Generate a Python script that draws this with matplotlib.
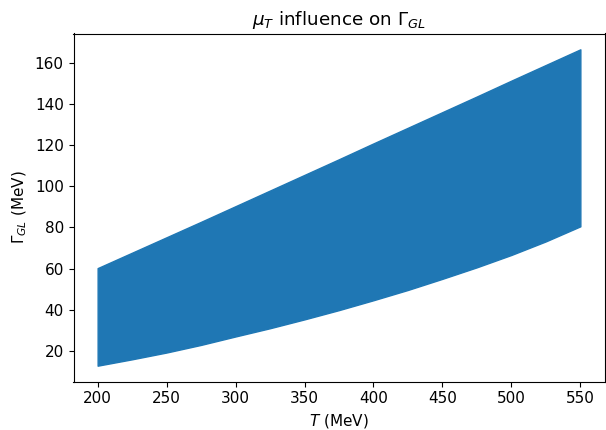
import numpy as np
import matplotlib
matplotlib.use("Agg")
import matplotlib.pyplot as plt

# temperature grid and Gamma_GL band edges (MeV)
T = [200, 225, 250, 275, 300, 325, 350, 375, 400, 425, 450, 475, 500, 525, 550]
gamma_low = [12.8, 15.9, 19.2, 22.9, 27.0, 31.0, 35.3, 39.8, 44.6, 49.6,
             55.0, 60.6, 66.6, 73.2, 80.5]
gamma_high = [60.2, 67.7, 75.2, 82.7, 90.3, 97.9, 105.5, 113.1, 120.8, 128.4,
              136.0, 143.6, 151.3, 158.9, 166.5]

plt.rcParams['font.size'] = 11

fig = plt.figure(figsize=(6.06, 4.30), dpi=100)
ax = fig.add_axes([73.5/606, 1 - 381.5/430, (604.5-73.5)/606, (381.5-33.5)/430])

ax.fill_between(T, gamma_low, gamma_high, color='C0')

ax.set_xlabel(r"$T$ (MeV)")
ax.set_ylabel(r"$\Gamma_{GL}$ (MeV)")
ax.set_title(r"$\mu_T$ influence on $\Gamma_{GL}$")
ax.set_xticks([200, 250, 300, 350, 400, 450, 500, 550])
ax.set_yticks([20, 40, 60, 80, 100, 120, 140, 160])

fig.savefig("out.png", dpi=100)
